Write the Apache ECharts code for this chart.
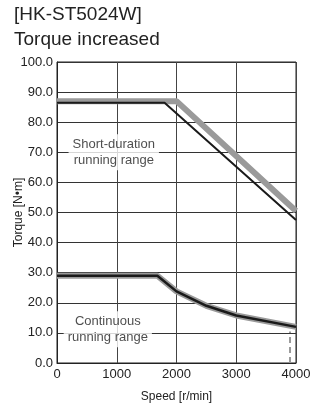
<!DOCTYPE html>
<html><head><meta charset="utf-8">
<script src="https://cdn.jsdelivr.net/npm/echarts@6/dist/echarts.min.js"></script>
<style>html,body{margin:0;padding:0;background:#fff}#c{width:325px;height:412px}</style>
</head><body><div id="c"></div>
<script>
var title1 = "[HK-ST5024W]";
var title2 = "Torque increased";
var xTicks = [0, 1000, 2000, 3000, 4000];
var yTicks = [0, 10, 20, 30, 40, 50, 60, 70, 80, 90, 100];
var shortGraySpeed = [0, 2000, 4000];
var shortGrayTorque = [87, 87, 50.5];
var shortBlackSpeed = [0, 1800, 4000];
var shortBlackTorque = [86.5, 86.5, 47.5];
var contSpeed = [0, 1680, 2000, 2500, 3000, 4000];
var contTorque = [29, 29, 23.8, 19, 15.8, 12];
var dashSpeed = [3900, 3900];
var dashTorque = [0, 10.5];
var labelShort = "Short-duration\nrunning range";
var labelShortPos = [950, 70];
var labelCont = "Continuous\nrunning range";
var labelContPos = [850, 11.2];

function pts(xs, ys){ return xs.map(function(x,i){ return [x, ys[i]]; }); }
var chart = echarts.init(document.getElementById('c'));
var F = "'Liberation Sans', Arial, sans-serif";
chart.setOption({
  animation: false,
  textStyle: {fontFamily: F},
  graphic: [
    {type:'text', left: 14, top: 5, style:{text: title1, font: "19px " + F, fill:'#222'}},
    {type:'text', left: 14, top: 30, style:{text: title2, font: "19px " + F, fill:'#222'}}
  ],
  grid: {left: 57, right: 29, top: 62, bottom: 49, show: true, borderColor:'#222', borderWidth:1,
         containLabel:false, outerBoundsMode:'none'},
  xAxis: {
    type:'value', min: xTicks[0], max: xTicks[xTicks.length-1], interval: 1000,
    name: 'Speed [r/min]', nameLocation:'middle', nameGap: 28, nameMoveOverlap: false,
    nameTextStyle:{fontSize: 12, color:'#222', fontFamily:F},
    axisLine:{show:true, lineStyle:{color:'#222'}}, axisTick:{show:false},
    axisLabel:{fontSize: 13, color:'#222', fontFamily:F, margin: 5, formatter: function(v){return String(v);}},
    splitLine:{show:true, lineStyle:{color:'#444', width:1}}
  },
  yAxis: {
    type:'value', min: yTicks[0], max: yTicks[yTicks.length-1], interval: 10,
    name: 'Torque [N•m]', nameLocation:'middle', nameGap: 32, nameMoveOverlap: false,
    nameTextStyle:{fontSize: 12, color:'#222', fontFamily:F},
    axisLine:{show:true, lineStyle:{color:'#222'}}, axisTick:{show:false},
    axisLabel:{fontSize: 13, color:'#222', fontFamily:F, margin: 4, formatter: function(v){return v.toFixed(1);}},
    splitLine:{show:true, lineStyle:{color:'#333', width:1}}
  },
  series: [
    {type:'line', data: pts(shortGraySpeed, shortGrayTorque), symbol:'none', lineStyle:{color:'#9a9a9a', width:6}, z:3},
    {type:'line', data: pts(shortBlackSpeed, shortBlackTorque), symbol:'none', lineStyle:{color:'#1a1a1a', width:2}, z:4},
    {type:'line', data: pts(contSpeed, contTorque), symbol:'none', lineStyle:{color:'#9a9a9a', width:6}, z:3},
    {type:'line', data: pts(contSpeed, contTorque), symbol:'none', lineStyle:{color:'#1a1a1a', width:2.5}, z:4},
    {type:'line', data: pts(dashSpeed, dashTorque), symbol:'none', lineStyle:{color:'#999', width:2, type:[6,4]}, z:3},
    {type:'scatter', symbolSize:0, z:5,
     data:[{value: labelShortPos, name: labelShort},{value: labelContPos, name: labelCont}],
     label:{show:true, position:'inside', formatter: function(p){return p.name;}, fontSize: 13, lineHeight: 16,
       color:'#222', backgroundColor:'#fff', padding:[2,4], fontFamily:F}}
  ]
});
</script></body></html>
